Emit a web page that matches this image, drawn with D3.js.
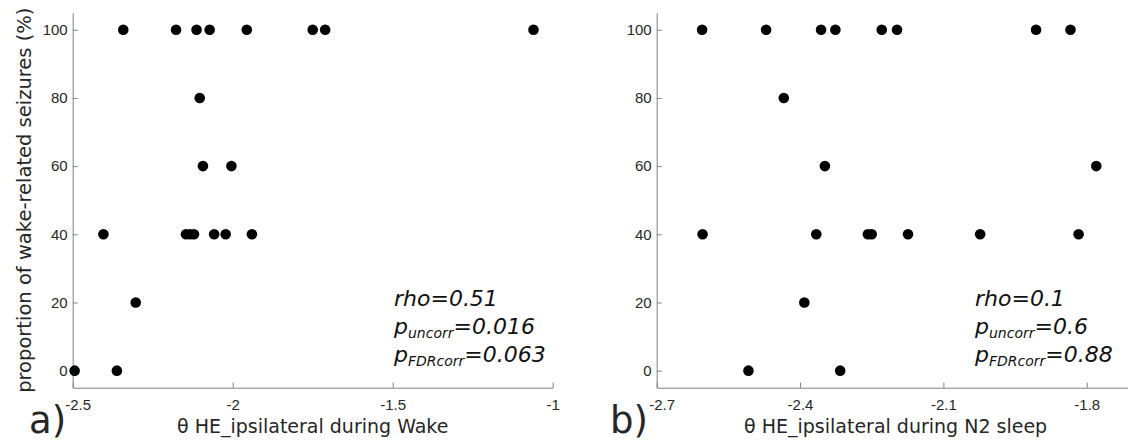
<!DOCTYPE html>
<html>
<head>
<meta charset="utf-8">
<script src="https://cdn.jsdelivr.net/npm/d3@7"></script>
<style>
  body { margin: 0; background: #fff; }
  svg { display: block; font-family: "DejaVu Sans", Verdana, sans-serif; }
</style>
</head>
<body>
<div id="chart-container"></div>
<script>
// proportion of wake-related seizures (%) per patient
const yTicks = [0, 20, 40, 60, 80, 100];

// panel a) theta HE ipsilateral during Wake
const wakeTicks = [-2.5, -2, -1.5, -1];
const wakeTheta = [-2.342, -2.177, -2.113, -2.072, -1.956, -1.750, -1.711, -1.060,
  -2.103,
  -2.093, -2.004,
  -2.404, -2.146, -2.133, -2.121, -2.058, -2.022, -1.940,
  -2.303,
  -2.494, -2.362];
const wakeProp = [100, 100, 100, 100, 100, 100, 100, 100,
  80,
  60, 60,
  40, 40, 40, 40, 40, 40, 40,
  20,
  0, 0];
const wakeStats = ['0.51', '0.016', '0.063'];

// panel b) theta HE ipsilateral during N2 sleep
const sleepTicks = [-2.7, -2.4, -2.1, -1.8];
const sleepTheta = [-2.605, -2.471, -2.356, -2.326, -2.229, -2.197, -1.906, -1.834,
  -2.434,
  -2.348, -1.780,
  -2.604, -2.366, -2.258, -2.250, -2.174, -2.023, -1.817,
  -2.391,
  -2.508, -2.316];
const sleepProp = wakeProp.slice();
const sleepStats = ['0.1', '0.6', '0.88'];

const width = 1128;
const height = 442;
const axisColor = '#808080';
const textColor = '#262626';

const svg = d3.select('#chart-container').append('svg').
attr('width', width).attr('height', height);

const yScale = d3.scaleLinear().domain([-5, 105]).range([387.7, 12.7]);

function drawPanel(opts) {
  let xScale = d3.scaleLinear().domain(opts.domain).range([opts.left, opts.left + opts.plotWidth]);
  let g = svg.append('g');

  let xAxis = d3.axisBottom(xScale).
  tickValues(opts.ticks).
  tickFormat(d => d.toString()).
  tickSizeInner(-5).tickSizeOuter(0).tickPadding(12);

  let yAxis = d3.axisLeft(yScale).
  tickValues(yTicks).
  tickSizeInner(-5).tickSizeOuter(0).tickPadding(5);

  let gx = g.append('g').attr('transform', `translate(0, ${yScale(-5)})`).call(xAxis);
  let gy = g.append('g').attr('transform', `translate(${opts.left}, 0)`).call(yAxis);

  [gx, gy].forEach(ax => {
    ax.select('.domain').attr('stroke', axisColor);
    ax.selectAll('.tick line').attr('stroke', axisColor);
    ax.selectAll('.tick text').attr('fill', textColor).style('font-size', '15px').attr('font-family', null);
  });

  // first x label sits a bit right of its tick, next to the panel letter
  gx.selectAll('.tick text').filter((d, i) => i === 0).attr('dx', 5);

  g.append('g').selectAll('circle').
  data(opts.xs.map((x, i) => ({ x: x, y: opts.ys[i] }))).enter().
  append('circle').
  attr('cx', d => xScale(d.x)).
  attr('cy', d => yScale(d.y)).
  attr('r', 5.3).
  attr('fill', '#000');

  // x axis title
  g.append('text').text(opts.xTitle).
  attr('x', opts.left + opts.plotWidth / 2).
  attr('y', 433).
  attr('text-anchor', 'middle').
  attr('fill', textColor).
  style('font-size', '19px');

  // panel letter
  g.append('text').text(opts.letter).
  attr('x', opts.letterX).
  attr('y', 433).
  attr('fill', textColor).
  style('font-size', '37px');

  // stats
  let stats = g.append('g').attr('fill', '#111').style('font-style', 'italic');
  stats.append('text').attr('x', opts.statsX).attr('y', 306).
  style('font-size', '22px').text(`rho=${opts.stats[0]}`);

  let subs = [['uncorr', opts.stats[1], 334], ['FDRcorr', opts.stats[2], 362]];
  subs.forEach(s => {
    let t = stats.append('text').attr('x', opts.statsX).attr('y', s[2]).style('font-size', '22px');
    t.append('tspan').text('p');
    t.append('tspan').attr('dy', 4).style('font-size', '14px').text(s[0]);
    t.append('tspan').attr('dy', -4).text(`=${s[1]}`);
  });

  if (opts.yTitle) {
    g.append('text').text(opts.yTitle).
    attr('transform', 'rotate(-90)').
    attr('x', -(yScale(-5) + yScale(105)) / 2).
    attr('y', 31).
    attr('text-anchor', 'middle').
    attr('fill', textColor).
    style('font-size', '19.5px');
  }
}

drawPanel({
  left: 72.7, plotWidth: 480, domain: [-2.5, -1], ticks: wakeTicks,
  xs: wakeTheta, ys: wakeProp, stats: wakeStats, statsX: 394,
  xTitle: 'θ HE_ipsilateral during Wake', letter: 'a)', letterX: 29,
  yTitle: 'proportion of wake-related seizures (%)'
});

drawPanel({
  left: 656.7, plotWidth: 477.8, domain: [-2.7, -1.7], ticks: sleepTicks,
  xs: sleepTheta, ys: sleepProp, stats: sleepStats, statsX: 975,
  xTitle: 'θ HE_ipsilateral during N2 sleep', letter: 'b)', letterX: 610
});
</script>
</body>
</html>
